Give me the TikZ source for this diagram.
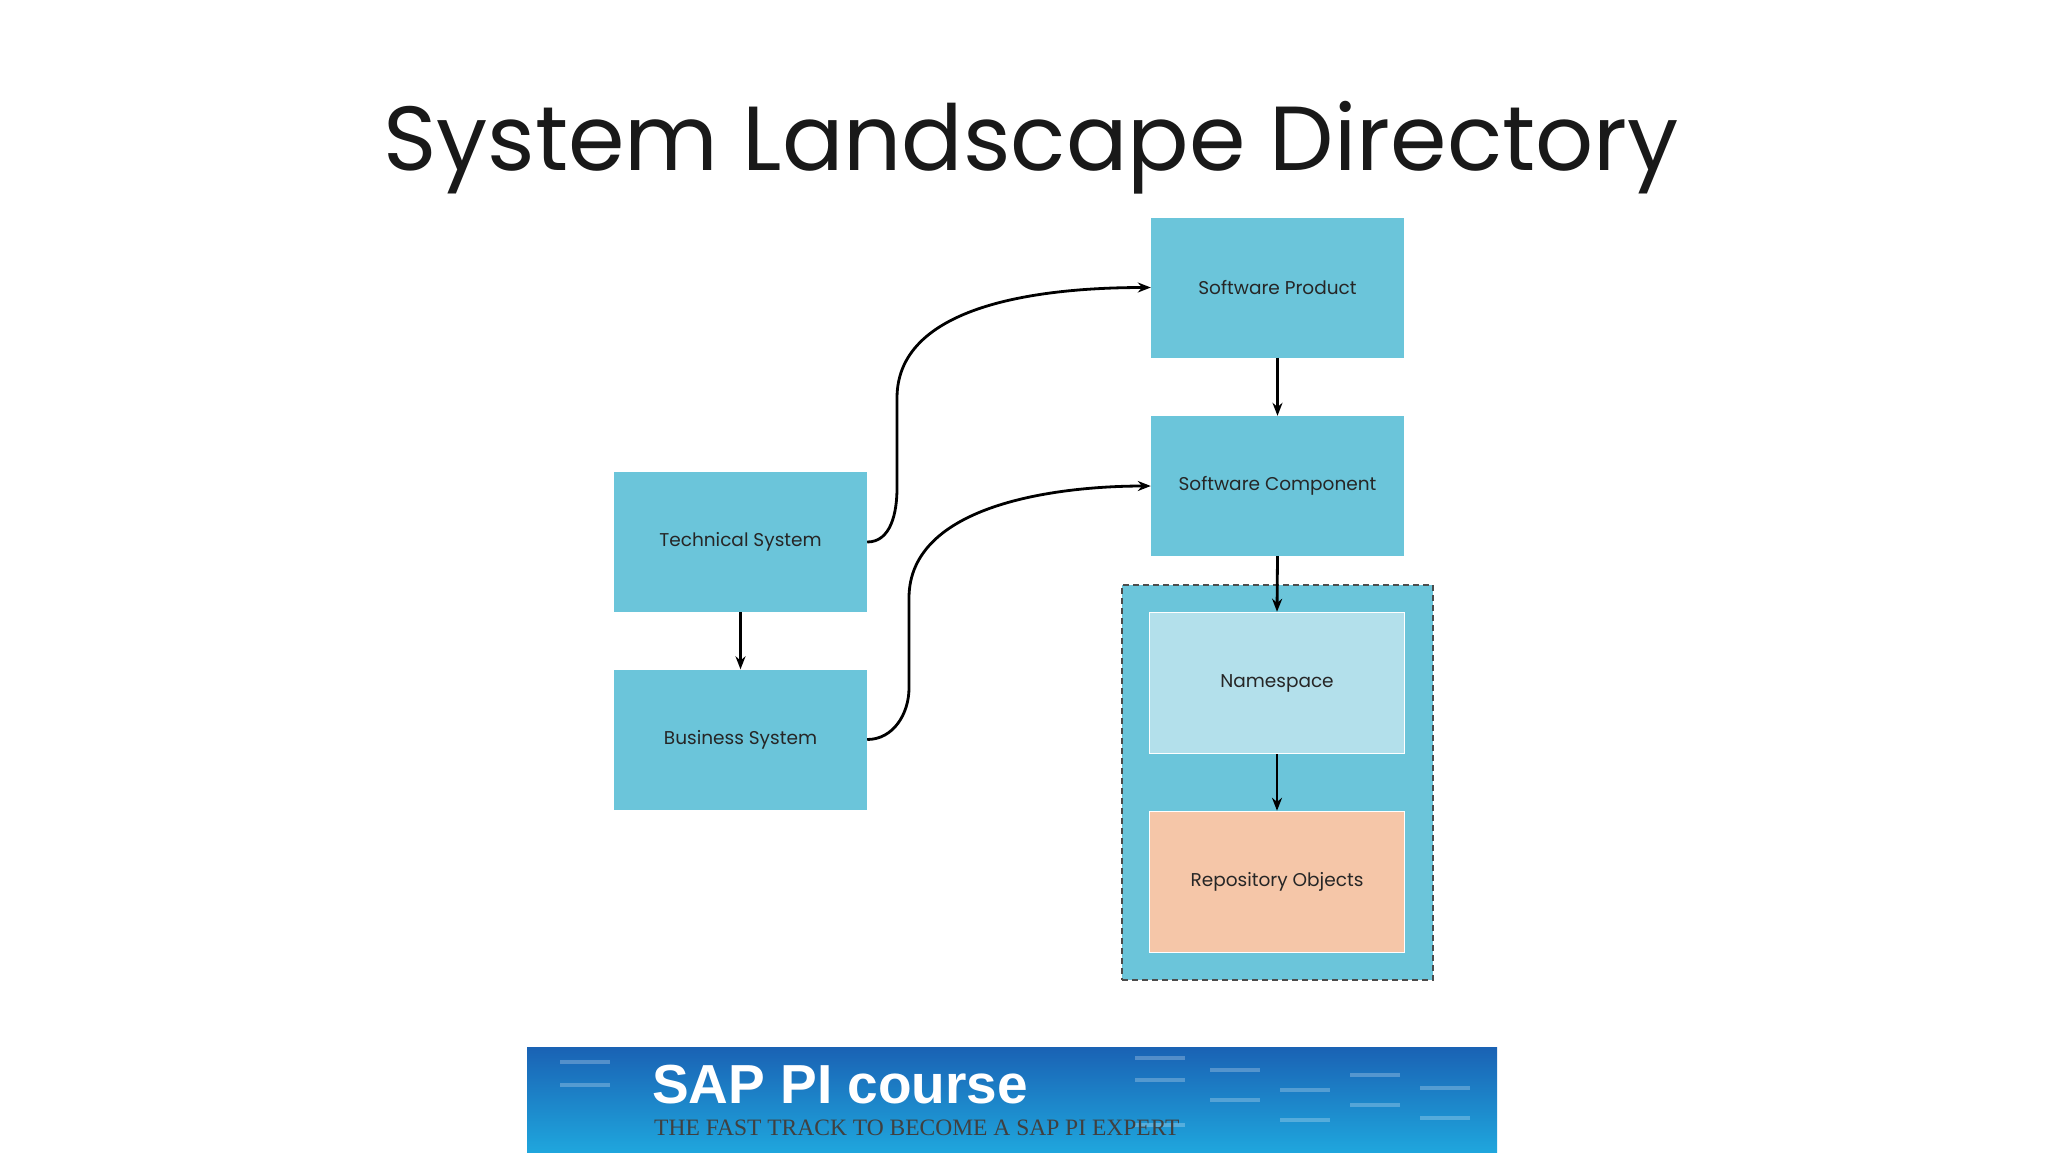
\documentclass[tikz,border=0pt]{standalone}
\usepackage{fontspec}
\setmainfont{Poppins}
\newfontfamily\serifb{Liberation Serif}
\newfontfamily\sansb{Liberation Sans}
\usetikzlibrary{arrows.meta}
\definecolor{boxc}{HTML}{6BC5DA}
\definecolor{nsc}{HTML}{B3E0EB}
\definecolor{repc}{HTML}{F5C6A8}
\definecolor{bantop}{HTML}{1A62B4}
\definecolor{banbot}{HTML}{1FA6DD}
\begin{document}
\begin{tikzpicture}[x=1pt,y=-1pt,
  box/.style={draw=none,fill=boxc,minimum width=253pt,minimum height=140pt,inner sep=0pt,font=\fontsize{18.5}{22}\selectfont,text=black!85},
  inbox/.style={box,draw=white,line width=1.5pt,minimum width=255pt,minimum height=141pt},
  arr/.style={line width=2.8pt,-{Stealth[length=13pt,width=10pt]}}]
\useasboundingbox (0,0) rectangle (2048,1152);
\fill[white] (0,0) rectangle (2048,1152);
\node[font=\fontsize{91}{104}\selectfont,text=black!90] (title) at (1031,148) {System Landscape Directory};
\begin{scope}[shift={(-6,-2)}]
\node[box] (sp) at (1283.5,289.5) {Software Product};
\node[box] (sc) at (1283.5,488) {Software Component};
\node[box] (ts) at (746.5,544) {Technical System};
\node[box] (bs) at (746.5,741.5) {Business System};
\node[draw=black!70,dash pattern=on 6pt off 4pt,line width=1.5pt,fill=boxc,minimum width=311pt,minimum height=395pt,inner sep=0pt] (grp) at (1283.5,784.5) {};
\node[inbox,fill=nsc] (ns) at (1283,685) {Namespace};
\node[inbox,fill=repc] (ro) at (1283,884) {Repository Objects};
\draw[arr] (sp.south) -- (sc.north);
\draw[arr] (ts.south) -- (bs.north);
\draw[arr] (sc.south) -- (ns.north);
\draw[arr] (ns.south) -- (ro.north);
\draw[arr] (ts.east) to[out=0,in=-90,looseness=1] (903,490) -- (903,400) to[out=90,in=180,looseness=0.9] (sp.west);
\draw[arr] (bs.east) to[out=0,in=-90,looseness=1] (915,690) -- (915,600) to[out=90,in=180,looseness=0.9] (sc.west);
\end{scope}
% banner
\shade[top color=bantop,bottom color=banbot] (527,1047) rectangle (1497,1152);
\foreach \x/\y in {560/1062,560/1085,1135/1058,1135/1080,1210/1070,1210/1100,1280/1090,1280/1120,1350/1075,1350/1105,1420/1088,1420/1118,1135/1125}
  \draw[white,opacity=0.25,line width=4pt] (\x,\y) -- ++(50,0);
\node[anchor=west,font=\sansb\bfseries\fontsize{55}{60}\selectfont,text=white,inner sep=0pt] (bt) at (652,1085) {SAP PI course};
\node[anchor=west,font=\serifb\fontsize{23.5}{26}\selectfont,text=black!75,inner sep=0pt] (bst) at (654,1128) {THE FAST TRACK TO BECOME A SAP PI EXPERT};
\end{tikzpicture}
\end{document}
